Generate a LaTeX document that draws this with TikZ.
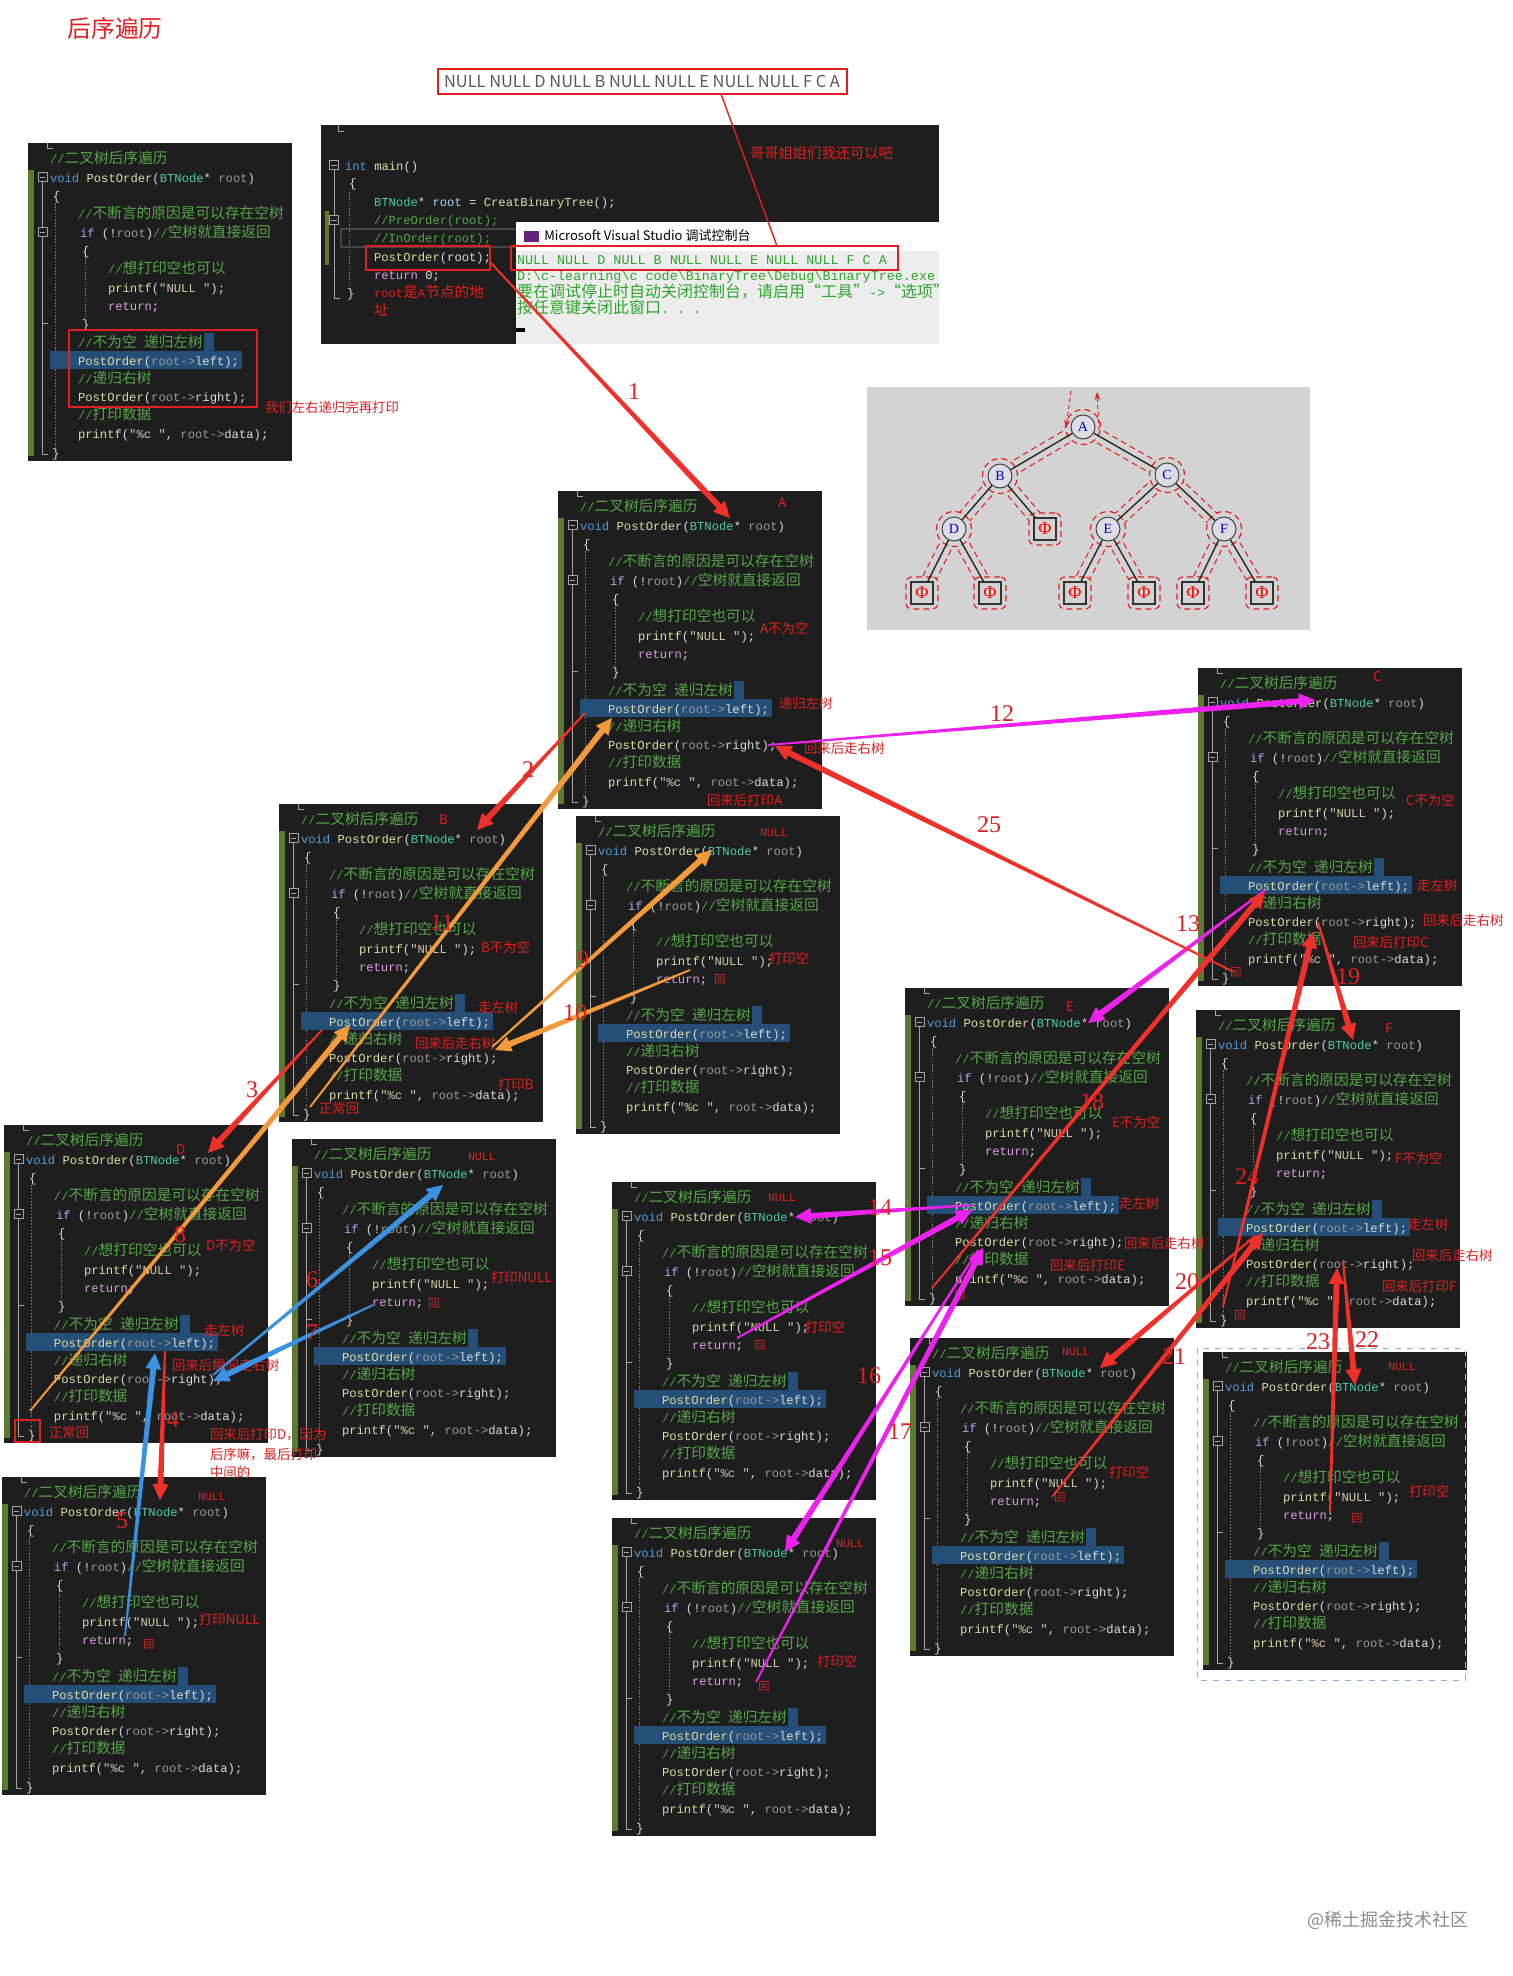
\documentclass[tikz,border=0pt]{standalone}
\usepackage{fontspec}
\setmonofont{Liberation Mono}
\newfontfamily\cjkfont{Noto Sans CJK SC}
\newfontfamily\serifnum{Liberation Serif}
\usetikzlibrary{calc,arrows.meta}
\definecolor{codebg}{HTML}{1E1E1E}
\definecolor{cgreen}{HTML}{57A64A}
\definecolor{cblue}{HTML}{569CD6}
\definecolor{cyellow}{HTML}{DCDCAA}
\definecolor{cteal}{HTML}{4EC9B0}
\definecolor{cgrayp}{HTML}{9A9A9A}
\definecolor{cwhite}{HTML}{DCDCDC}
\definecolor{cpurple}{HTML}{D8A0DF}
\definecolor{cstr}{HTML}{D8C8A8}
\definecolor{cif}{HTML}{B8A4EC}
\definecolor{cvar}{HTML}{9CDCFE}
\definecolor{foldc}{HTML}{A5A5A5}
\definecolor{guidec}{HTML}{7A7A7A}
\definecolor{gbarc}{HTML}{5B7B34}
\definecolor{selc}{HTML}{264F78}
\definecolor{annred}{HTML}{E02020}
\definecolor{arred}{HTML}{F0302A}
\definecolor{armag}{HTML}{EE22EE}
\definecolor{arblue}{HTML}{3A92E0}
\definecolor{arorange}{HTML}{F39A3C}
\definecolor{treebg}{HTML}{D3D3D3}
\definecolor{nodefill}{HTML}{DCDCE4}
\definecolor{conbg}{HTML}{EDEDED}
\definecolor{congreen}{HTML}{2EA52E}
\definecolor{vspurple}{HTML}{68217A}
\definecolor{resgray}{HTML}{5A5A5A}
\definecolor{linehl}{HTML}{464646}
\definecolor{selboxc}{HTML}{8FB0D8}
\newcommand\codefont{\ttfamily\fontsize{6.1}{7}\selectfont}
\newcommand\zh[1]{{\cjkfont\fontsize{7.35}{8}\selectfont #1}}
\newcommand\zhb[1]{{\cjkfont\fontsize{8}{9}\selectfont #1}}
\newcommand\confont{\ttfamily\fontsize{6.7}{8}\selectfont}
\newcommand\anfont{\cjkfont\fontsize{6.7}{8}\selectfont}
\newcommand\numfont{\serifnum\fontsize{12}{13}\selectfont}
\newcommand\huifont{\cjkfont\fontsize{5.6}{6}\selectfont}
\newcommand\nlfont{\ttfamily\fontsize{5.8}{6}\selectfont}
\newcommand\qG[1]{\textcolor{cgreen}{#1}}
\newcommand\qK[1]{\textcolor{cblue}{#1}}
\newcommand\qF[1]{\textcolor{cyellow}{#1}}
\newcommand\qT[1]{\textcolor{cteal}{#1}}
\newcommand\qP[1]{\textcolor{cgrayp}{#1}}
\newcommand\qS[1]{\textcolor{cstr}{#1}}
\newcommand\qI[1]{\textcolor{cif}{#1}}
\newcommand\qR[1]{\textcolor{cpurple}{#1}}
\newcommand\qV[1]{\textcolor{cvar}{#1}}
\tikzset{
 panelbox/.style={fill=codebg, minimum width=132pt, minimum height=159pt, anchor=north west, inner sep=0, outer sep=0},
 ct/.style={anchor=base west, inner sep=0, outer sep=0, font=\codefont, text=cwhite},
 fbox/.style={draw=foldc, fill=codebg, minimum size=4.6pt, inner sep=0, line width=0.35pt,
   path picture={\draw[foldc, line width=0.35pt] ([xshift=0.9pt]path picture bounding box.west) -- ([xshift=-0.9pt]path picture bounding box.east);}},
 foldl/.style={draw=foldc, line width=0.35pt},
 guide/.style={draw=guidec, line width=0.35pt, dash pattern=on 0.8pt off 0.8pt},
 ann/.style={anchor=west, inner sep=0, outer sep=0, font=\anfont, text=annred},
 nullann/.style={anchor=west, inner sep=0, outer sep=0, font=\nlfont, text=annred},
 num/.style={inner sep=0, font=\numfont, text=annred},
 hui/.style={inner sep=0, font=\huifont, text=annred},
 cons/.style={anchor=base west, inner sep=0, outer sep=0, font=\confont, text=congreen},
 tnode/.style={circle, draw=black!75, fill=nodefill, minimum size=12pt, inner sep=0, line width=0.5pt, font=\serifnum\fontsize{7}{8}\selectfont, text=blue!75!black},
 tleaf/.style={rectangle, draw=black!80, fill=treebg, minimum size=11pt, inner sep=0, line width=0.6pt, font=\serifnum\fontsize{9}{9}\selectfont, text=red},
 rbox/.style={draw=annred, line width=1pt},
}
\newcommand\tarrow[3]{%
 \coordinate (tb) at ($(#2)!8pt!(#1)$);
 \fill[#3] ($(#1)!0.45pt!90:(#2)$) -- ($(tb)!1.5pt!-90:(#1)$) -- ($(tb)!4pt!-90:(#1)$) -- (#2) -- ($(tb)!4pt!90:(#1)$) -- ($(tb)!1.5pt!90:(#1)$) -- ($(#1)!0.45pt!-90:(#2)$) -- cycle;}
\newcommand\cpanel[3]{%
\begin{scope}[shift={(#2,#3)}]
\node[panelbox] (#1) at (0,0) {};
\fill[gbarc] (0,27) rectangle (6,313);
\draw[foldl] (19,0) |- (25,5);
\draw[foldl] (14.5,39) -- (14.5,311) -- (20,311);
\draw[foldl] (14.5,180) -- (20,180);
\draw[guide] (27,60) -- (27,304);
\draw[guide] (57,113) -- (57,175);
\fill[selc] (22,208) rectangle (214,226);
\fill[selc] (176,190) rectangle (186,208);
\node[fbox] (#1-fa) at (14.5,34) {};
\node[fbox] (#1-fb) at (14.5,89) {};
\node[ct] (#1-t0) at (22,20) {\qG{//\zh{二叉树后序遍历}}};
\node[ct] (#1-t1) at (22,39) {\qK{void} \qF{PostOrder}(\qT{BTNode}* \qP{root})};
\node[ct] (#1-t2) at (25,57) {\{};
\node[ct] (#1-t3) at (50,75) {\qG{//\zh{不断言的原因是可以存在空树}}};
\node[ct] (#1-t4) at (52,94) {\qI{if} (!\qP{root})\qG{//\zh{空树就直接返回}}};
\node[ct] (#1-t5) at (54,112) {\{};
\node[ct] (#1-t6) at (80,130) {\qG{//\zh{想打印空也可以}}};
\node[ct] (#1-t7) at (80,149) {\qF{printf}(\qS{"NULL "});};
\node[ct] (#1-t8) at (80,167) {\qR{return};};
\node[ct] (#1-t9) at (54,185) {\}};
\node[ct] (#1-t10) at (50,204) {\qG{//\zh{不为空}\ \zh{递归左树}}};
\node[ct] (#1-t11) at (50,222) {\qF{PostOrder}(\qP{root->}left);};
\node[ct] (#1-t12) at (50,240) {\qG{//\zh{递归右树}}};
\node[ct] (#1-t13) at (50,258) {\qF{PostOrder}(\qP{root->}right);};
\node[ct] (#1-t14) at (50,276) {\qG{//\zh{打印数据}}};
\node[ct] (#1-t15) at (50,295) {\qF{printf}(\qS{"\%c "}, \qP{root->}data);};
\node[ct] (#1-t16) at (24,314) {\}};
\end{scope}}
\begin{document}
\begin{tikzpicture}[x=0.5pt,y=-0.5pt]
\useasboundingbox (0,0) rectangle (1512,1976);
\fill[white] (0,0) rectangle (1512,1976);
% title
\node[font=\cjkfont\fontsize{11.9}{13}\selectfont, text=annred, inner sep=0] (title) at (115,28) {后序遍历};
% result box
\node[draw=annred, line width=1pt, minimum width=204.5pt, minimum height=12.5pt, inner sep=0, font=\cjkfont\fontsize{8.2}{9}\selectfont, text=resgray] (res) at (642,81.5) {NULL NULL D NULL B NULL NULL E NULL NULL F C A};
% panels
\cpanel{P0}{28}{143}
\cpanel{PA}{558}{491}
\cpanel{PB}{279}{804}
\cpanel{PNB}{576}{816}
\cpanel{PD}{4}{1125}
\cpanel{PNDL}{2}{1477}
\cpanel{PNDR}{292}{1139}
\cpanel{PC}{1198}{668}
\cpanel{PE}{905}{988}
\cpanel{PNEL}{612}{1182}
\cpanel{PNER}{612}{1518}
\cpanel{PF}{1196}{1010}
\cpanel{PNFL}{910}{1338}
\cpanel{PNFR}{1203}{1352}
\draw[selboxc, dashed, line width=0.5pt] (1197,1348) rectangle (1465,1680);
% main panel
\node[fill=codebg, minimum width=309pt, minimum height=109.5pt, anchor=north west, inner sep=0] (mainp) at (321,125) {};
\draw[foldl] (338,125) |- (344,131);
\fill[gbarc] (325,211) rectangle (329,265);
\draw[foldl] (334,170) -- (334,298) -- (340,298);
\draw[guide] (349,192) -- (349,288);
\draw[linehl, line width=0.6pt] (341,229) rectangle (540,247);
\node[fbox] (mf1) at (334,165) {};
\node[fbox] (mf2) at (334,220) {};
\node[ct] (m1) at (345,170) {\qK{int} \qF{main}()};
\node[ct] (m2) at (349,187) {\{};
\node[ct] (m3) at (374,206) {\qT{BTNode}* \qV{root} = \qF{CreatBinaryTree}();};
\node[ct] (m4) at (374,224) {\qG{//PreOrder(root);}};
\node[ct] (m5) at (374,242) {\qG{//InOrder(root);}};
\node[ct] (m6) at (374,261) {\qF{PostOrder}(root);};
\node[ct] (m7) at (374,279) {\qR{return} 0;};
\node[ct] (m8) at (347,297) {\}};
\node[ct, text=annred] (m9) at (374,297) {root\zh{是}A\zh{节点的地}};
\node[ct, text=annred] (m10) at (374,315) {\zh{址}};
\node[rbox, minimum width=62pt, minimum height=12pt, inner sep=0] (mbox) at (428,258) {};
% console
\node[fill=white, minimum width=211.5pt, minimum height=14.5pt, anchor=north west, inner sep=0] (contitle) at (516,222) {};
\node[fill=conbg, minimum width=211.5pt, minimum height=46.5pt, anchor=north west, inner sep=0] (conbody) at (516,251) {};
\node[fill=vspurple, minimum width=7.5pt, minimum height=5.5pt, inner sep=0] (conicon) at (531,236) {};
\node[anchor=west, inner sep=0, font=\cjkfont\fontsize{6.5}{7}\selectfont] (contxt) at (544,236) {Microsoft Visual Studio 调试控制台};
\begin{scope}
\clip (516,222) rectangle (939,344);
\node[cons] (c1) at (517,264) {NULL NULL D NULL B NULL NULL E NULL NULL F C A};
\node[cons] (c2) at (517,280) {D:\textbackslash c-learning\textbackslash c code\textbackslash BinaryTree\textbackslash Debug\textbackslash BinaryTree.exe};
\node[cons] (c3) at (517,297) {\zhb{要在调试停止时自动关闭控制台，请启用“工具”}->\zhb{“选项”}};
\node[cons] (c4) at (517,313) {\zhb{按任意键关闭此窗口}. . .};
\end{scope}
\node[rbox, minimum width=193.5pt, minimum height=12pt, inner sep=0] (cbox) at (704.5,258) {};
\fill[black] (516,328) rectangle (525,332);
\coordinate (resl) at (721,94);
\coordinate (cbl) at (777,246);
\draw[annred, line width=0.7pt] (resl) -- (cbl);
\node[ann, font=\cjkfont\fontsize{7.15}{8}\selectfont] (gege) at (750,153) {哥哥姐姐们我还可以吧};
% P0 box
\draw[rbox] (69,330) rectangle (257,407);
\node[ann] (p0a) at (265,407) {我们左右递归完再打印};
% tree
\node[fill=treebg, minimum width=221.5pt, minimum height=121.5pt, anchor=north west, inner sep=0] (treep) at (867,387) {};
\coordinate (kA) at (1083,427); \coordinate (kB) at (1000,476); \coordinate (kC) at (1167,475);
\coordinate (kD) at (954,529); \coordinate (kE) at (1108,529); \coordinate (kF) at (1224,529);
\coordinate (k0) at (1045,529); \coordinate (k1) at (922,593); \coordinate (k2) at (990,593);
\coordinate (k3) at (1075,593); \coordinate (k4) at (1144,593); \coordinate (k5) at (1193,593); \coordinate (k6) at (1262,593);
\foreach \a/\b in {kA/kB,kA/kC,kB/kD,kB/k0,kD/k1,kD/k2,kC/kE,kC/kF,kE/k3,kE/k4,kF/k5,kF/k6}
  \draw[annred, line width=7.2pt, dash pattern=on 3pt off 2pt] (\a) -- (\b);
\foreach \a/\b in {kA/kB,kA/kC,kB/kD,kB/k0,kD/k1,kD/k2,kC/kE,kC/kF,kE/k3,kE/k4,kF/k5,kF/k6}
  \draw[treebg, line width=6pt] (\a) -- (\b);
\foreach \k in {kA,kB,kC,kD,kE,kF}
  \node[circle, draw=annred, dash pattern=on 3pt off 2pt, line width=0.6pt, fill=treebg, minimum size=17.5pt] (h\k) at (\k) {};
\foreach \k in {k0,k1,k2,k3,k4,k5,k6}
  \node[rectangle, rounded corners=3pt, draw=annred, dash pattern=on 3pt off 2pt, line width=0.6pt, fill=treebg, minimum size=16pt] (h\k) at (\k) {};
\node[tnode] (nA) at (kA) {A};
\node[tnode] (nB) at (kB) {B};
\node[tnode] (nC) at (kC) {C};
\node[tnode] (nD) at (kD) {D};
\node[tnode] (nE) at (kE) {E};
\node[tnode] (nF) at (kF) {F};
\node[tleaf] (n0) at (k0) {Φ};
\node[tleaf] (n1) at (k1) {Φ};
\node[tleaf] (n2) at (k2) {Φ};
\node[tleaf] (n3) at (k3) {Φ};
\node[tleaf] (n4) at (k4) {Φ};
\node[tleaf] (n5) at (k5) {Φ};
\node[tleaf] (n6) at (k6) {Φ};
\foreach \a/\b in {nA/nB,nA/nC,nB/nD,nB/n0,nD/n1,nD/n2,nC/nE,nC/nF,nE/n3,nE/n4,nF/n5,nF/n6}
  \draw[black!85, line width=0.7pt] (\a) -- (\b);
\coordinate (ta1s) at (1071,391); \coordinate (ta1e) at (1066,428);
\coordinate (ta2s) at (1099,430); \coordinate (ta2e) at (1097,392);
\draw[annred, dash pattern=on 2pt off 1.5pt, line width=0.5pt, -{Stealth[length=4pt,width=3pt]}] (ta1s) -- (ta1e);
\draw[annred, dash pattern=on 2pt off 1.5pt, line width=0.5pt, -{Stealth[length=4pt,width=3pt]}] (ta2s) -- (ta2e);
% ---- panel annotations
\node[ann] (aA0) at (778,503) {A};
\node[ann] (aA1) at (760,628) {A不为空};
\node[ann] (aA2) at (779,703) {递归左树};
\node[ann] (aA3) at (804,748) {回来后走右树};
\node[ann] (aA4) at (707,800) {回来后打印A};
\node[ann] (aB0) at (439,820) {B};
\node[ann] (aB1) at (481,947) {B不为空};
\node[ann] (aB2) at (478,1007) {走左树};
\node[ann] (aB3) at (415,1043) {回来后走右树};
\node[ann] (aB4) at (498,1084) {打印B};
\node[ann] (aB5) at (319,1108) {正常回};
\node[ann] (aD0) at (176,1150) {D};
\node[ann] (aD1) at (206,1245) {D不为空};
\node[ann] (aD2) at (204,1330) {走左树};
\node[ann] (aD3) at (172,1365) {回来后瞬间走右树};
\node[ann] (aD4) at (49,1432) {正常回};
\node[ann] (aD5) at (210,1435) {回来后打印D，因为};
\node[ann] (aD6) at (210,1455) {后序嘛，最后打印};
\node[ann] (aD7) at (210,1472) {中间的};
\draw[rbox] (15,1420) rectangle (40,1442);
\node[nullann] (aN1) at (468,1157) {NULL};
\node[ann] (aN1b) at (491,1277) {打印NULL};
\node[hui] (aN1c) at (434,1303) {回};
\node[nullann] (aN2) at (198,1497) {NULL};
\node[ann] (aN2b) at (199,1619) {打印NULL};
\node[hui] (aN2c) at (149,1644) {回};
\node[nullann] (aN3) at (760,833) {NULL};
\node[ann] (aN3b) at (769,958) {打印空};
\node[hui] (aN3c) at (720,979) {回};
\node[ann] (aE0) at (1066,1007) {E};
\node[ann] (aE1) at (1112,1122) {E不为空};
\node[ann] (aE2) at (1119,1203) {走左树};
\node[ann] (aE3) at (1124,1243) {回来后走右树};
\node[ann] (aE4) at (1050,1265) {回来后打印E};
\node[hui] (aE5) at (960,1295) {回};
\node[nullann] (aN4) at (768,1198) {NULL};
\node[ann] (aN4b) at (805,1327) {打印空};
\node[hui] (aN4c) at (760,1345) {回};
\node[nullann] (aN5) at (836,1544) {NULL};
\node[ann] (aN5b) at (817,1661) {打印空};
\node[hui] (aN5c) at (764,1686) {回};
\node[ann] (aC0) at (1373,677) {C};
\node[ann] (aC1) at (1406,800) {C不为空};
\node[ann] (aC2) at (1417,885) {走左树};
\node[ann] (aC3) at (1423,920) {回来后走右树};
\node[ann] (aC4) at (1353,942) {回来后打印C};
\node[hui] (aC5) at (1236,972) {回};
\node[ann] (aF0) at (1385,1029) {F};
\node[ann] (aF1) at (1395,1158) {F不为空};
\node[ann] (aF2) at (1408,1224) {走左树};
\node[ann] (aF3) at (1412,1255) {回来后走右树};
\node[ann] (aF4) at (1382,1286) {回来后打印F};
\node[hui] (aF5) at (1240,1315) {回};
\node[nullann] (aN6) at (1062,1352) {NULL};
\node[ann] (aN6b) at (1109,1472) {打印空};
\node[hui] (aN6c) at (1060,1497) {回};
\node[nullann] (aN7) at (1388,1367) {NULL};
\node[ann] (aN7b) at (1409,1491) {打印空};
\node[hui] (aN7c) at (1357,1518) {回};
% ---- arrow end points
\coordinate (r1s) at (490,262);   \coordinate (r1e) at (730,518);
\coordinate (r2s) at (585,713);   \coordinate (r2e) at (477,830);
\coordinate (r3s) at (322,1030);  \coordinate (r3e) at (208,1153);
\coordinate (r4s) at (165,1351);  \coordinate (r4e) at (160,1500);
\coordinate (r18s) at (932,1288); \coordinate (r18e) at (1265,892);
\coordinate (r19s) at (1318,922); \coordinate (r19e) at (1353,1040);
\coordinate (r20s) at (1255,1236);\coordinate (r20e) at (1100,1368);
\coordinate (r21s) at (1052,1497);\coordinate (r21e) at (1263,1233);
\coordinate (r22s) at (1343,1262);\coordinate (r22e) at (1355,1385);
\coordinate (r23s) at (1330,1512);\coordinate (r23e) at (1337,1268);
\coordinate (r24s) at (1223,1307);\coordinate (r24e) at (1313,932);
\coordinate (r25s) at (1234,972); \coordinate (r25e) at (775,746);
\coordinate (m12s) at (768,745);  \coordinate (m12e) at (1315,700);
\coordinate (m13s) at (1265,890); \coordinate (m13e) at (1088,1023);
\coordinate (m14s) at (972,1205); \coordinate (m14e) at (795,1217);
\coordinate (m15s) at (737,1338); \coordinate (m15e) at (972,1210);
\coordinate (m16s) at (978,1250); \coordinate (m16e) at (785,1552);
\coordinate (m17s) at (756,1682); \coordinate (m17e) at (983,1248);
\coordinate (b5s) at (125,1636);  \coordinate (b5e) at (155,1353);
\coordinate (b6s) at (213,1375);  \coordinate (b6e) at (443,1185);
\coordinate (b7s) at (373,1305);  \coordinate (b7e) at (213,1381);
\coordinate (o8s) at (30,1411);   \coordinate (o8e) at (350,1025);
\coordinate (o9s) at (492,1047);  \coordinate (o9e) at (712,850);
\coordinate (o10s) at (690,970);  \coordinate (o10e) at (495,1050);
\coordinate (o11s) at (310,1107); \coordinate (o11e) at (612,718);
% ---- arrows
\tarrow{r1s}{r1e}{arred}
\tarrow{r2s}{r2e}{arred}
\tarrow{r3s}{r3e}{arred}
\tarrow{r4s}{r4e}{arred}
\tarrow{o8s}{o8e}{arorange}
\tarrow{o9s}{o9e}{arorange}
\tarrow{o10s}{o10e}{arorange}
\tarrow{o11s}{o11e}{arorange}
\tarrow{b5s}{b5e}{arblue}
\tarrow{b6s}{b6e}{arblue}
\tarrow{b7s}{b7e}{arblue}
\tarrow{m12s}{m12e}{armag}
\tarrow{m13s}{m13e}{armag}
\tarrow{m14s}{m14e}{armag}
\tarrow{m15s}{m15e}{armag}
\tarrow{m16s}{m16e}{armag}
\tarrow{m17s}{m17e}{armag}
\tarrow{r18s}{r18e}{arred}
\tarrow{r19s}{r19e}{arred}
\tarrow{r20s}{r20e}{arred}
\tarrow{r21s}{r21e}{arred}
\tarrow{r22s}{r22e}{arred}
\tarrow{r23s}{r23e}{arred}
\tarrow{r24s}{r24e}{arred}
\tarrow{r25s}{r25e}{arred}
% ---- step numbers
\node[num] (n1) at (634,392) {1};
\node[num] (n2) at (528,770) {2};
\node[num] (n3) at (252,1090) {3};
\node[num] (n4) at (173,1420) {4};
\node[num] (n5) at (122,1521) {5};
\node[num] (n6) at (312,1280) {6};
\node[num] (n7) at (312,1333) {7};
\node[num] (n8) at (180,1235) {8};
\node[num] (n9) at (583,960) {9};
\node[num] (n10) at (575,1013) {10};
\node[num] (n11) at (442,923) {11};
\node[num] (n12) at (1002,714) {12};
\node[num] (n13) at (1188,924) {13};
\node[num] (n14) at (880,1208) {14};
\node[num] (n15) at (880,1258) {15};
\node[num] (n16) at (869,1376) {16};
\node[num] (n17) at (900,1432) {17};
\node[num] (n18) at (1092,1102) {18};
\node[num] (n19) at (1348,977) {19};
\node[num] (n20) at (1187,1282) {20};
\node[num] (n21) at (1174,1357) {21};
\node[num] (n22) at (1367,1340) {22};
\node[num] (n23) at (1318,1342) {23};
\node[num] (n24) at (1247,1177) {24};
\node[num] (n25) at (989,825) {25};
% watermark
\node[font=\cjkfont\fontsize{9}{10}\selectfont, text=black!45, inner sep=0] (wm) at (1388,1920) {@稀土掘金技术社区};
\end{tikzpicture}
\end{document}
